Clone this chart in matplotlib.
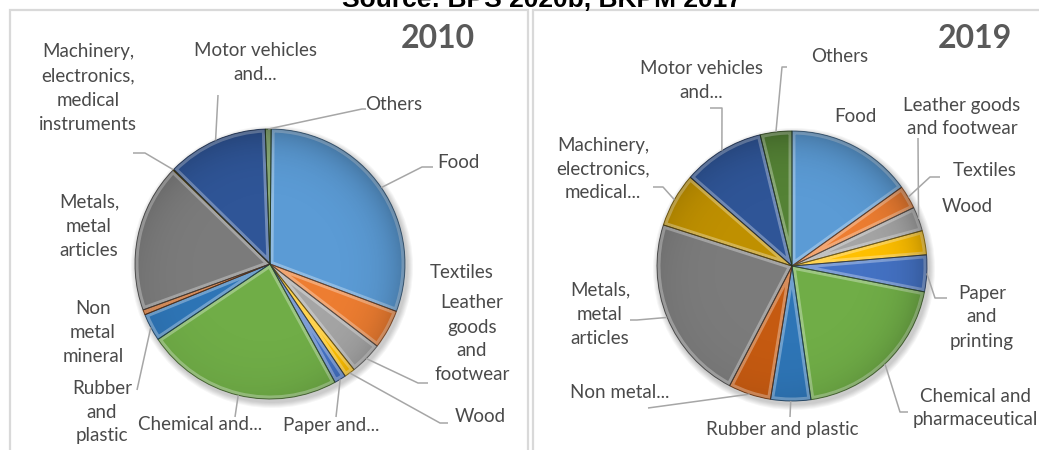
import numpy as np
import matplotlib
matplotlib.use("Agg")
import matplotlib.pyplot as plt
from matplotlib.patches import Rectangle, Circle, Wedge
from matplotlib import colors as mcolors

# ---------------- data ----------------
categories = ["Food", "Textiles", "Leather goods and footwear", "Wood",
              "Paper and printing", "Chemical and pharmaceutical",
              "Rubber and plastic", "Non metal mineral",
              "Metals, metal articles",
              "Machinery, electronics, medical instruments",
              "Motor vehicles and parts", "Others"]
share_2010 = [30.6, 4.7, 3.9, 1.3, 1.4, 23.6, 3.3, 0.6, 17.8, 0.1, 12.1, 0.7]
share_2019 = [15.1, 2.8, 2.9, 2.9, 4.4, 19.7, 4.8, 5.1, 22.3, 6.5, 9.8, 3.8]

labels_2010 = ["Food", "Textiles", "Leather\ngoods\nand\nfootwear", "Wood",
               "Paper and...", "Chemical and...", "Rubber\nand\nplastic",
               "Non\nmetal\nmineral", "Metals,\nmetal\narticles",
               "Machinery,\nelectronics,\nmedical\ninstruments",
               "Motor vehicles\nand...", "Others"]
labels_2019 = ["Food", "Textiles", "Leather goods\nand footwear", "Wood",
               "Paper\nand\nprinting", "Chemical and\npharmaceutical",
               "Rubber and plastic", "Non metal...", "Metals,\nmetal\narticles",
               "Machinery,\nelectronics,\nmedical...",
               "Motor vehicles\nand...", "Others"]
title_text = "Source: BPS 2020b, BKPM 2017"
years = ["2010", "2019"]

slice_colors = ["#5B9BD5", "#ED7D31", "#A5A5A5", "#FFC000", "#4472C4", "#70AD47",
                "#2E75B6", "#C55A11", "#7B7B7B", "#BF9000", "#2F5597", "#548235"]

# ---------------- layout (pixel coordinates, y from top) ----------------
W, H = 1039, 450
def Y(y):
    return H - y

layout = [
    dict(center=(270, 264), radius=135, start=89.5, year_pos=(438, 39),
         text_pos=[(458, 162), (462, 272), (472, 339), (480, 417), (331, 425),
                   (200, 425), (102, 412), (93, 333), (89, 226), (88, 88),
                   (255, 62), (394, 105)],
         leaders=[[(422, 167), (433, 167)], None, [(418, 383), (428, 383)],
                  [(440, 423), (448, 423)], [(336, 417)], [(235, 417)],
                  [(137, 390)], None, None, [(145, 153), (133, 153)],
                  [(218, 95)], [(362, 109), (366, 109)]]),
    dict(center=(792, 266), radius=135, start=90, year_pos=(975, 38),
         text_pos=[(855, 117), (985, 171), (962, 117), (967, 207), (982, 317),
                   (975, 408), (782, 430), (620, 393), (600, 314), (603, 169),
                   (701, 80), (840, 57)],
         leaders=[None, [(930, 177), (940, 177)], [(918, 138)], None,
                  [(935, 298), (947, 298)], [(900, 412), (908, 412)],
                  [(790, 417)], [(648, 408)], [(637, 320), (630, 320)],
                  [(663, 187), (653, 187)], [(722, 108), (710, 108)],
                  [(782, 67), (787, 67)]]),
]

TEXT_COLOR = "#4A4A4A"
LINE_COLOR = "#A6A6A6"
FONT = ["Lato", "DejaVu Sans"]

fig = plt.figure(figsize=(W / 100, H / 100), dpi=100)
ax = fig.add_axes([0, 0, 1, 1])

# panel frames
ax.add_patch(Rectangle((10, Y(458)), 518, 448, fill=False, ec="#D9D9D9", lw=1.6))
ax.add_patch(Rectangle((533, Y(458)), 520, 448, fill=False, ec="#D9D9D9", lw=1.6))


def lighten(c, f):
    r, g, b = mcolors.to_rgb(c)
    return (r + (1 - r) * f, g + (1 - g) * f, b + (1 - b) * f)


def darken(c, f):
    r, g, b = mcolors.to_rgb(c)
    return (r * (1 - f), g * (1 - f), b * (1 - f))


for values, labels, lay, year in zip([share_2010, share_2019],
                                     [labels_2010, labels_2019], layout, years):
    cx, cy = lay["center"][0], Y(lay["center"][1])
    R = lay["radius"]

    # soft shadow
    for k in range(6):
        ax.add_patch(Circle((cx + 2, cy - 3), R + 6 - k, color="black",
                            alpha=0.035, lw=0, zorder=1))

    wedges, _ = ax.pie(values, colors=slice_colors, startangle=lay["start"],
                       counterclock=False, center=(cx, cy), radius=R,
                       wedgeprops=dict(linewidth=0, zorder=2))
    for w, col in zip(wedges, slice_colors):
        w.set_zorder(2)
        # bevel highlight inside each slice edge
        hl = Wedge(w.center, w.r, w.theta1, w.theta2, fc="none",
                   ec=lighten(col, 0.45), lw=5, alpha=0.7, zorder=3)
        ax.add_patch(hl)
        hl.set_clip_path(w)
        # dark outline
        ax.add_patch(Wedge(w.center, w.r, w.theta1, w.theta2, fc="none",
                           ec=darken(col, 0.55), lw=0.7, alpha=0.8, zorder=4))

    # radial shading overlay
    n = 300
    xs = np.linspace(-1, 1, n)
    XX, YY = np.meshgrid(xs, xs)
    rr = np.sqrt(XX ** 2 + YY ** 2)
    direction = np.clip((XX - YY) / 1.414, -1, 1)
    alpha = 0.25 * rr ** 6 * (0.6 + 0.4 * direction)
    rgba = np.zeros((n, n, 4))
    rgba[..., 3] = np.clip(alpha, 0, 1)
    im = ax.imshow(rgba, extent=(cx - R, cx + R, cy - R, cy + R), zorder=5,
                   interpolation="bilinear")
    clip = Circle((cx, cy), R, transform=ax.transData)
    im.set_clip_path(clip)

    # labels and leader lines
    for w, lab, pos, lead in zip(wedges, labels, lay["text_pos"], lay["leaders"]):
        ax.text(pos[0], Y(pos[1]), lab, ha="center", va="center",
                fontsize=13.5, color=TEXT_COLOR, family=FONT,
                linespacing=1.5, zorder=6)
        if lead:
            mid = np.deg2rad((w.theta1 + w.theta2) / 2)
            ax0 = cx + R * np.cos(mid)
            ay0 = cy + R * np.sin(mid)
            xs_l = [ax0] + [p[0] for p in lead]
            ys_l = [ay0] + [Y(p[1]) for p in lead]
            ax.plot(xs_l, ys_l, color=LINE_COLOR, lw=1.1, zorder=6,
                    solid_capstyle="butt")

    ax.text(lay["year_pos"][0], Y(lay["year_pos"][1]), year, ha="center",
            va="center", fontsize=23, fontweight="bold", color="#595959",
            family=FONT, zorder=6)

ax.set_xlim(0, W)
ax.set_ylim(0, H)
ax.set_aspect("auto")
ax.axis("off")

fig.text(542 / W, 1 - 7 / H, title_text, ha="center", va="baseline",
         fontsize=19, fontweight="bold", color="black",
         family=["Liberation Sans Narrow", "Liberation Sans", "DejaVu Sans"])

fig.savefig("out.png", dpi=100)
